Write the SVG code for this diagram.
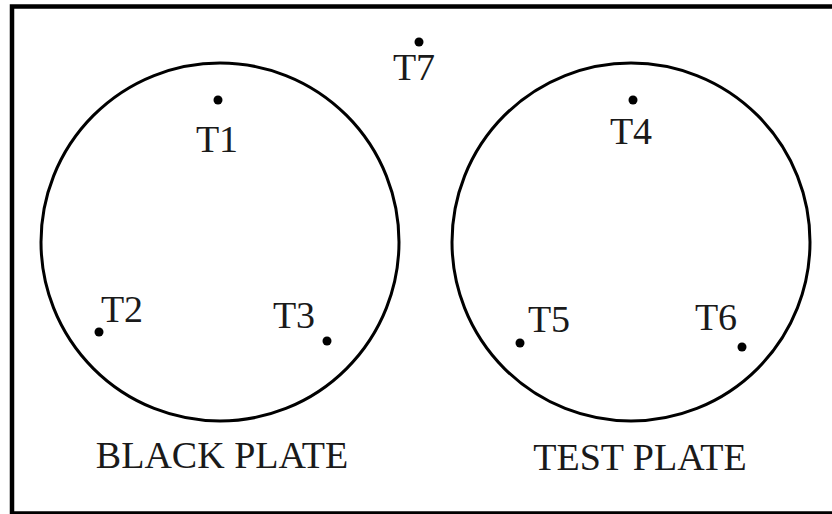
<svg xmlns="http://www.w3.org/2000/svg" width="832" height="514" viewBox="0 0 832 514">
<style>
.frame{fill:none;stroke:#000;stroke-width:4.5}
.plate{fill:none;stroke:#000;stroke-width:3}
.dot{fill:#000}
.lbl{font-family:"Liberation Serif","Times New Roman",serif;font-size:38px;fill:#1a1a1a}
</style>
<rect fill="#fff" x="0" y="0" width="832" height="514"/>
<path class="frame" d="M832,6.5 H12 V513.5 H832"/>
<g id="black-plate">
<circle class="plate" cx="220" cy="242" r="179"/>
<text class="lbl" x="222" y="468" text-anchor="middle">BLACK PLATE</text>
</g>
<g id="test-plate">
<circle class="plate" cx="631" cy="242" r="179"/>
<text class="lbl" x="640" y="470" text-anchor="middle">TEST PLATE</text>
</g>
<g id="T1"><circle class="dot" cx="218" cy="100" r="4.5"/><text class="lbl" x="217" y="152" text-anchor="middle">T1</text></g>
<g id="T2"><circle class="dot" cx="99" cy="332" r="4.5"/><text class="lbl" x="122" y="322" text-anchor="middle">T2</text></g>
<g id="T3"><circle class="dot" cx="327" cy="341" r="4.5"/><text class="lbl" x="294" y="328" text-anchor="middle">T3</text></g>
<g id="T4"><circle class="dot" cx="633" cy="100" r="4.5"/><text class="lbl" x="631" y="144" text-anchor="middle">T4</text></g>
<g id="T5"><circle class="dot" cx="520" cy="343" r="4.5"/><text class="lbl" x="549" y="332" text-anchor="middle">T5</text></g>
<g id="T6"><circle class="dot" cx="742" cy="347" r="4.5"/><text class="lbl" x="716" y="330" text-anchor="middle">T6</text></g>
<g id="T7"><circle class="dot" cx="419" cy="42" r="4.5"/><text class="lbl" x="414" y="80" text-anchor="middle">T7</text></g>
</svg>
